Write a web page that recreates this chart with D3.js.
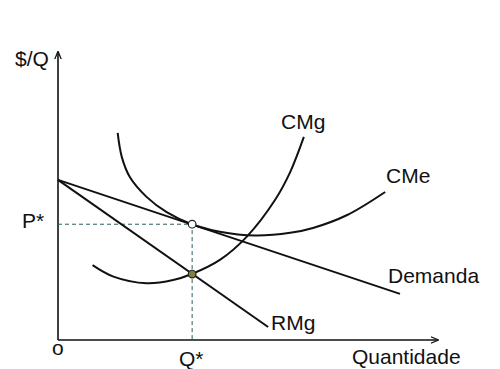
<!DOCTYPE html>
<html>
<head>
<meta charset="utf-8">
<script src="https://cdn.jsdelivr.net/npm/d3@7"></script>
<style>
  body { margin: 0; background: #fff; }
  text { font-family: Arial, "Liberation Sans", sans-serif; font-size: 21px; fill: #111; }
</style>
</head>
<body>
<svg id="chart" width="500" height="369"></svg>
<script>
// curves in (quantity, price) units
const demanda = [[0, 5.56], [9.0, 1.6]];
const rmg = [[0, 5.56], [5.53, 0.45]];
const cme = [[1.57, 7.19], [1.68, 6.35], [1.89, 5.66], [2.33, 4.97], [2.86, 4.44], [3.52, 4.02],
             [4.26, 3.76], [5.18, 3.63], [6.11, 3.72], [6.71, 3.89], [7.61, 4.34], [8.61, 5.14]];
const cmg = [[0.91, 2.60], [1.46, 2.20], [2.33, 1.97], [3.03, 2.08], [3.52, 2.29], [4.26, 2.78],
             [4.97, 3.59], [5.71, 4.86], [6.11, 5.83], [6.47, 7.05]];
const qStar = 3.53, pStar = 4.02, cmgStar = 2.29;

const svg = d3.select('#chart');
const x = d3.scaleLinear().domain([0, 10]).range([58, 438]);
const y = d3.scaleLinear().domain([0, 10]).range([340, 52]);

const line = d3.line().x(d => x(d[0])).y(d => y(d[1]));
const smooth = d3.line().x(d => x(d[0])).y(d => y(d[1])).curve(d3.curveCatmullRom);

svg.append('defs').append('marker')
    .attr('id', 'arrow')
    .attr('viewBox', '0 0 10 10')
    .attr('refX', 9).attr('refY', 5)
    .attr('markerWidth', 5).attr('markerHeight', 5)
    .attr('orient', 'auto')
  .append('path')
    .attr('d', 'M0,1 L10,5 L0,9')
    .attr('fill', 'none')
    .attr('stroke', '#111')
    .attr('stroke-width', 1.6);

// axes
svg.append('path')
    .attr('d', line([[0, 0], [0, 10]]))
    .attr('stroke', '#111').attr('stroke-width', 1.6).attr('fill', 'none')
    .attr('marker-end', 'url(#arrow)');
svg.append('path')
    .attr('d', line([[0, 0], [10, 0]]))
    .attr('stroke', '#111').attr('stroke-width', 1.6).attr('fill', 'none')
    .attr('marker-end', 'url(#arrow)');

// dashed guides
svg.append('path')
    .attr('d', line([[0, pStar], [qStar, pStar], [qStar, 0]]))
    .attr('fill', 'none')
    .attr('stroke', '#295e5e').attr('stroke-width', 1)
    .attr('stroke-dasharray', '4,3');

// curves
const curves = [
  {d: demanda, gen: line},
  {d: rmg, gen: line},
  {d: cme, gen: smooth},
  {d: cmg, gen: smooth}
];
svg.selectAll('.curve').data(curves).enter().append('path')
    .attr('class', 'curve')
    .attr('d', c => c.gen(c.d))
    .attr('fill', 'none')
    .attr('stroke', '#111')
    .attr('stroke-width', 2);

// points
svg.append('circle')
    .attr('cx', x(qStar)).attr('cy', y(pStar)).attr('r', 3.8)
    .attr('fill', '#fff').attr('stroke', '#222').attr('stroke-width', 1.2);
svg.append('circle')
    .attr('cx', x(qStar)).attr('cy', y(cmgStar)).attr('r', 3.8)
    .attr('fill', '#7f8040').attr('stroke', '#222').attr('stroke-width', 1.2);

// labels
const labels = [
  {t: '$/Q', x: 15, y: 66},
  {t: 'P*', x: 22, y: 228},
  {t: 'o', x: 52, y: 355},
  {t: 'Q*', x: 179, y: 366},
  {t: 'Quantidade', x: 352, y: 364},
  {t: 'CMg', x: 281, y: 129},
  {t: 'CMe', x: 386, y: 183},
  {t: 'Demanda', x: 388, y: 283},
  {t: 'RMg', x: 271, y: 330}
];
svg.selectAll('.lbl').data(labels).enter().append('text')
    .attr('class', 'lbl')
    .attr('x', d => d.x).attr('y', d => d.y)
    .text(d => d.t);
</script>
</body>
</html>
